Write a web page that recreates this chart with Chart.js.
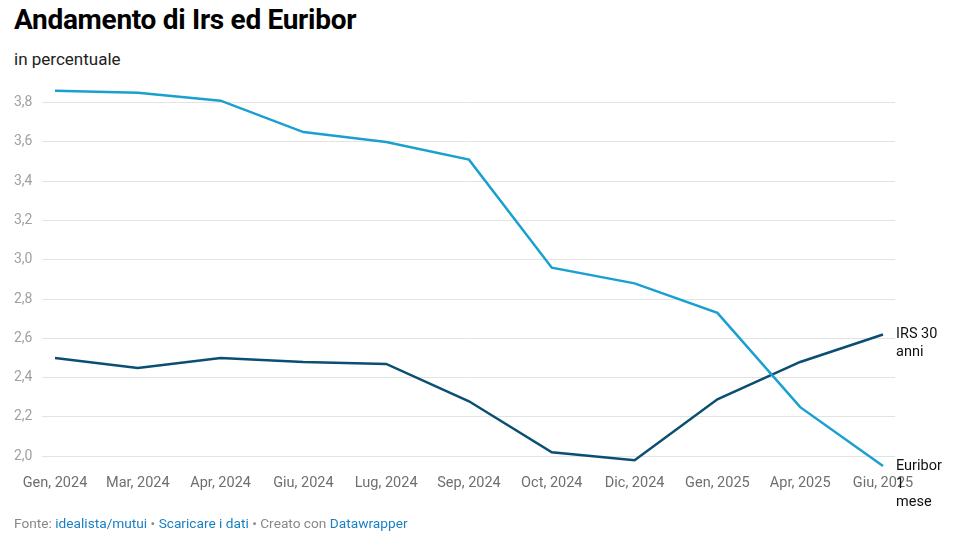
<!DOCTYPE html>
<html>
<head>
<meta charset="utf-8">
<script src="https://cdn.jsdelivr.net/npm/chart.js@4"></script>
<style>
	html, body { margin: 0; padding: 0; background: #fff; }
	body { width: 966px; height: 537px; position: relative; overflow: hidden; font-family: Roboto, sans-serif; }
	#chart { position: absolute; left: 0; top: 0; }
	.title { position: absolute; left: 14px; top: 6px; font-size: 28px; line-height: 1; font-weight: 700; color: #000; letter-spacing: -0.3px; }
	.subtitle { position: absolute; left: 14px; top: 51px; font-size: 17px; line-height: 1; color: #222; }
	.footer { position: absolute; left: 14px; top: 517px; font-size: 13.7px; line-height: 1; color: #888; }
	.footer a { color: #1a7fc1; text-decoration: none; }
</style>
</head>
<body>
<div class="title">Andamento di Irs ed Euribor</div>
<div class="subtitle">in percentuale</div>
<canvas id="chart" width="966" height="537"></canvas>
<div class="footer">Fonte: <a>idealista/mutui</a> • <a>Scaricare i dati</a> • Creato con <a>Datawrapper</a></div>

<script>
const months = [
	"Gen, 2024", "Mar, 2024", "Apr, 2024", "Giu, 2024", "Lug, 2024", "Sep, 2024",
	"Oct, 2024", "Dic, 2024", "Gen, 2025", "Apr, 2025", "Giu, 2025",
];
const euribor = [3.86, 3.85, 3.81, 3.65, 3.6, 3.51, 2.96, 2.88, 2.73, 2.25, 1.95];
const irs30 = [2.5, 2.45, 2.5, 2.48, 2.47, 2.28, 2.02, 1.98, 2.29, 2.48, 2.62];
const yTicks = [2.0, 2.2, 2.4, 2.6, 2.8, 3.0, 3.2, 3.4, 3.6, 3.8];
const seriesLabels = [["Euribor", "1", "mese"], ["IRS 30", "anni"]];

const lightBlue = "#1aa0d0";
const darkBlue = "#0a4f72";

const toPoints = values => values.map((v, i) => ({ x: i, y: v }));

// labels next to the last point of each line
const endLabels = {
	id: "endLabels",
	afterDatasetsDraw(chart) {
		const { ctx, chartArea, scales } = chart;
		ctx.save();
		ctx.font = "14.5px Roboto";
		ctx.fillStyle = "#111";
		ctx.textAlign = "left";
		ctx.textBaseline = "middle";
		chart.data.datasets.forEach((ds, i) => {
			const last = ds.data[ds.data.length - 1];
			const y = scales.y.getPixelForValue(last.y);
			seriesLabels[i].forEach((line, j) =>
				ctx.fillText(line, chartArea.right + 1, y + j * 18)
			);
		});
		ctx.restore();
	},
};

new Chart(document.getElementById("chart"), {
	type: "line",
	plugins: [endLabels],
	data: {
		datasets: [
			{
				label: "Euribor 1 mese",
				data: toPoints(euribor),
				borderColor: lightBlue,
				borderWidth: 2.5,
				pointRadius: 0,
				tension: 0,
			},
			{
				label: "IRS 30 anni",
				data: toPoints(irs30),
				borderColor: darkBlue,
				borderWidth: 2.5,
				pointRadius: 0,
				tension: 0,
			},
		],
	},
	options: {
		responsive: false,
		animation: false,
		events: [],
		layout: {
			padding: { top: 83, left: 14, right: 71, bottom: 43 },
		},
		plugins: {
			legend: { display: false },
			tooltip: { enabled: false },
		},
		scales: {
			x: {
				type: "linear",
				min: -0.157,
				max: 10.145,
				bounds: "data",
				afterBuildTicks: s => {
					s.ticks = months.map((m, i) => ({ value: i }));
				},
				afterFit: s => {
					s.height = 22;
				},
				grid: { display: false, drawTicks: false },
				border: { display: false },
				ticks: {
					autoSkip: false,
					maxRotation: 0,
					padding: 3,
					color: "#6f6f6f",
					font: { family: "Roboto", size: 14.5 },
					callback: v => months[v],
				},
			},
			y: {
				min: 1.92,
				max: 3.9,
				bounds: "data",
				afterBuildTicks: s => {
					s.ticks = yTicks.map(v => ({ value: v }));
				},
				afterFit: s => {
					s.width = 28;
				},
				grid: { color: "#e3e3e3", drawTicks: false },
				border: { display: false },
				ticks: {
					crossAlign: "far",
					padding: 0,
					color: "#a0a0a0",
					font: { family: "Roboto", size: 14 },
					callback: v => v.toFixed(1).replace(".", ","),
				},
			},
		},
	},
});
</script>
</body>
</html>
